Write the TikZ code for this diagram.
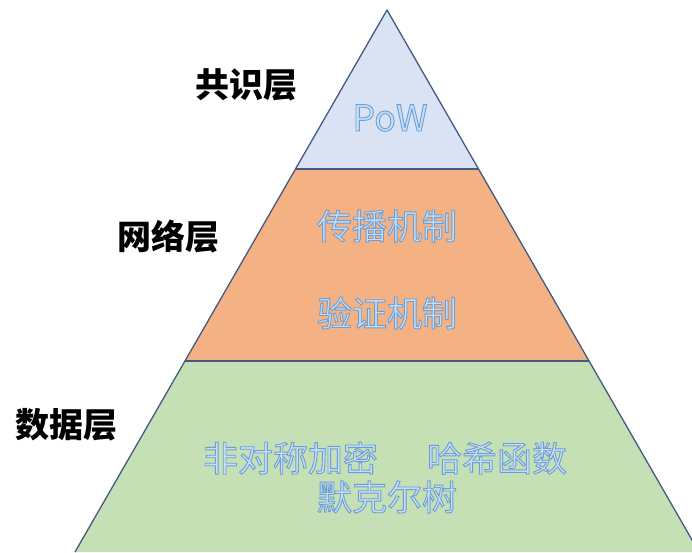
\documentclass[tikz,border=0pt]{standalone}
\usepackage{fontspec}
\setmainfont{Noto Sans CJK SC}
\newfontfamily\cjk{Noto Sans CJK SC}
\definecolor{topfill}{RGB}{218,227,243}
\definecolor{midfill}{RGB}{244,177,131}
\definecolor{botfill}{RGB}{197,224,180}
\definecolor{edge}{RGB}{68,90,130}
\definecolor{txtin}{RGB}{200,222,245}
\tikzset{
  layerline/.style={draw=edge, line width=1.3pt, line join=round},
  sidelabel/.style={font=\cjk\fontsize{34}{36}\selectfont\bfseries, text=black, inner sep=0pt},
  intext/.style={font=\cjk\fontsize{35}{38}\selectfont, text=txtin, inner sep=0pt},
}
\newcommand{\otext}[1]{\special{pdf:literal direct 2 Tr 0.9 w 0.42 0.62 0.83 RG}#1\special{pdf:literal direct 0 Tr 0.4 w}}
\begin{document}
\begin{tikzpicture}[x=1pt,y=-1pt]
\useasboundingbox (0,0) rectangle (692,552);
\begin{scope}
\clip (0,0) rectangle (692,552);
\coordinate (apex) at (387,10);
\coordinate (tl) at (295.5,169);
\coordinate (tr) at (478.5,169);
\coordinate (ml) at (185,361);
\coordinate (mr) at (589,361);
\coordinate (bl) at (75,552);
\coordinate (br) at (699,552);
\fill[botfill] (ml) -- (mr) -- (br) -- (bl) -- cycle;
\fill[midfill] (tl) -- (tr) -- (mr) -- (ml) -- cycle;
\fill[topfill] (apex) -- (tr) -- (tl) -- cycle;
\draw[layerline] (bl) -- (apex) -- (br);
\draw[layerline] (tl) -- (tr);
\draw[layerline] (ml) -- (mr);
\end{scope}
\node[sidelabel] (l1) at (246,85) {共识层};
\node[sidelabel] (l2) at (168,237) {网络层};
\node[sidelabel] (l3) at (66,425) {数据层};
\node[intext, font=\cjk\fontsize{36}{38}\selectfont] (pow) at (390,118) {\otext{PoW}};
\node[intext] (t1) at (387,226) {\otext{传播机制}};
\node[intext] (t2) at (387,313) {\otext{验证机制}};
\node[intext] (t3) at (385,458) {\otext{非对称加密\hspace{49pt}哈希函数}};
\node[intext] (t4) at (387,497) {\otext{默克尔树}};
\end{tikzpicture}
\end{document}
